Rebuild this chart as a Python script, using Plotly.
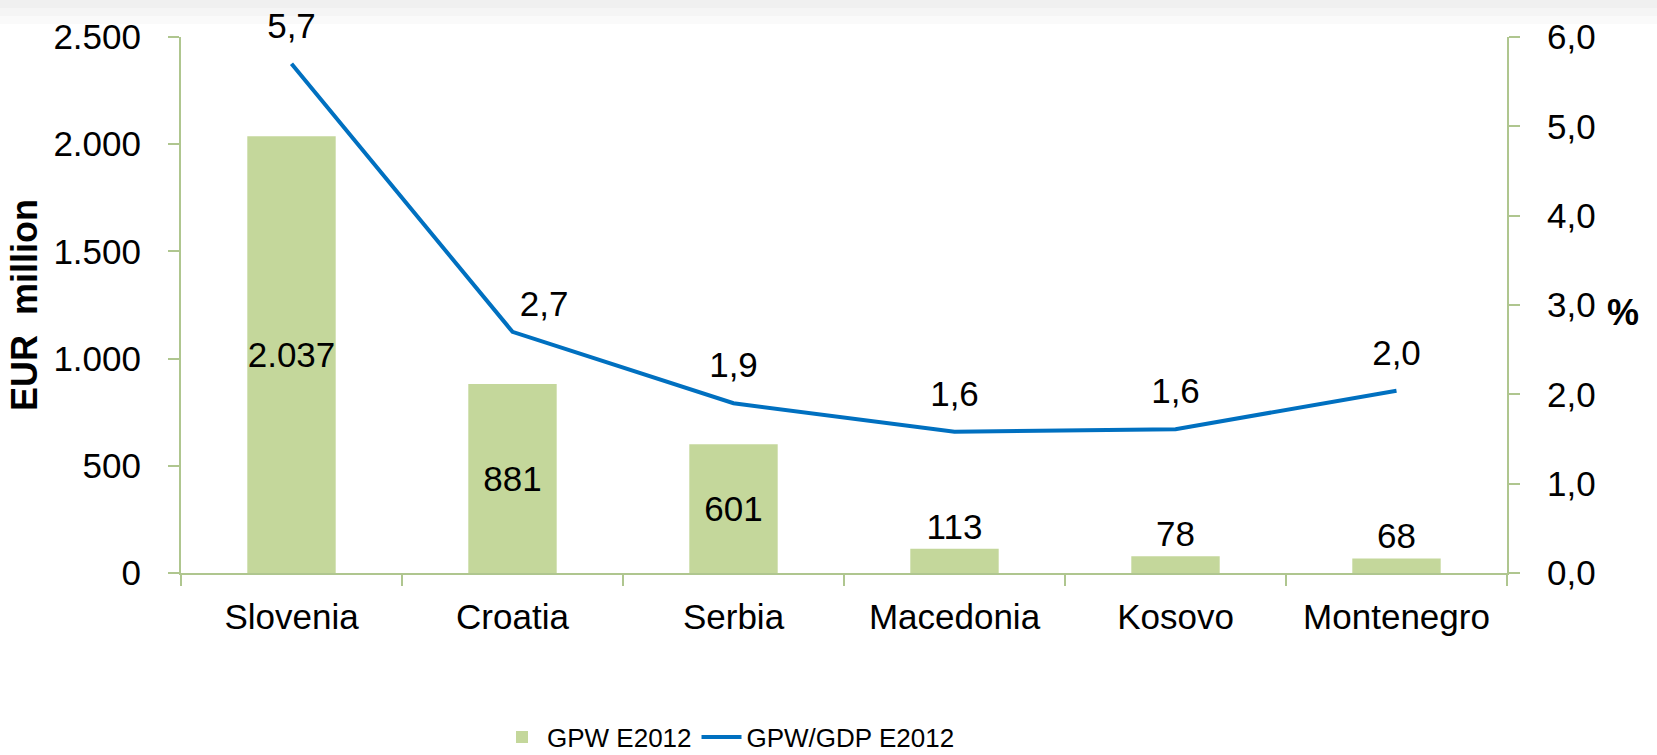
import plotly.graph_objects as go

countries = ["Slovenia", "Croatia", "Serbia", "Macedonia", "Kosovo", "Montenegro"]
gpw_eur_million = [2037, 881, 601, 113, 78, 68]
gpw_gdp_pct = [5.7, 2.7, 1.9, 1.58, 1.61, 2.04]

# label placement / styling (not data)
bar_label_pos = ["inside", "inside", "inside", "outside", "outside", "outside"]
line_label_pos = ["top center", "top right", "top center", "top center", "top center", "top center"]
line_label_pad = [26, 10, 26, 26, 26, 26]

left_ticks = [0, 500, 1000, 1500, 2000, 2500]
right_ticks = [0, 1, 2, 3, 4, 5, 6]

BAR = "#C4D79B"
LINE = "#0070C0"
AXIS = "#AFC68F"
FONT = "Liberation Sans, Arial, sans-serif"

W, H = 1657, 755
L, R, T, B = 181, 150, 37, 182
ph = H - T - B
pw = W - L - R

def py(px):
    return (H - B - px) / ph

def px_(x):
    return (x - L) / pw

fig = go.Figure()
fig.add_trace(go.Bar(
    x=countries, y=gpw_eur_million, name="GPW E2012",
    marker=dict(color=BAR, line=dict(width=0)), width=0.4,
    texttemplate="%{y:,.0f}", textposition=bar_label_pos, textangle=0,
    insidetextanchor="middle", constraintext="none",
    textfont=dict(family=FONT, size=35, color="black"),
    insidetextfont=dict(family=FONT, size=35, color="black"),
    outsidetextfont=dict(family=FONT, size=35, color="black"),
    cliponaxis=False, yaxis="y",
))
fig.add_trace(go.Scatter(
    x=countries, y=gpw_gdp_pct, name="GPW/GDP E2012",
    mode="lines+markers+text",
    line=dict(color=LINE, width=4),
    marker=dict(size=line_label_pad, color="rgba(0,0,0,0)", opacity=0,
                line=dict(width=0, color="rgba(0,0,0,0)")),
    texttemplate="%{y:.1f}", textposition=line_label_pos,
    textfont=dict(family=FONT, size=35, color="black"),
    cliponaxis=False, yaxis="y2",
))

shapes = [
    dict(type="rect", xref="paper", yref="paper", x0=-0.2, x1=1.2,
         y0=py(0), y1=py(8), fillcolor="#F0F0F0", line=dict(width=0), layer="below"),
    dict(type="rect", xref="paper", yref="paper", x0=-0.2, x1=1.2,
         y0=py(8), y1=py(16), fillcolor="#F5F5F5", line=dict(width=0), layer="below"),
    dict(type="rect", xref="paper", yref="paper", x0=-0.2, x1=1.2,
         y0=py(16), y1=py(24), fillcolor="#FAFAFA", line=dict(width=0), layer="below"),
]

fig.update_layout(
    width=W, height=H,
    margin=dict(l=L, r=R, t=T, b=B, autoexpand=False),
    paper_bgcolor="white", plot_bgcolor="rgba(0,0,0,0)",
    separators=",.",
    font=dict(family=FONT, size=35, color="black"),
    showlegend=True,
    legend=dict(orientation="h", x=px_(497), xanchor="left", y=py(737), yanchor="middle",
                font=dict(family=FONT, size=26, color="black"),
                bgcolor="rgba(0,0,0,0)", itemwidth=40, traceorder="normal"),
    xaxis=dict(type="category", showgrid=False, showline=True, linecolor=AXIS, linewidth=2,
               ticks="outside", tickson="boundaries", ticklen=11, tickcolor=AXIS, tickwidth=2,
               tickfont=dict(size=35), ticklabelstandoff=12, zeroline=False),
    yaxis=dict(range=[0, 2500], tickvals=left_ticks, tickformat=",.0f", showgrid=False,
               showline=True, linecolor=AXIS, linewidth=2, ticks="outside", ticklen=11,
               tickcolor=AXIS, tickwidth=2, tickfont=dict(size=35), ticklabelstandoff=20,
               zeroline=False,
               title=dict(text="EUR\u00a0\u00a0million", standoff=5,
                          font=dict(family=FONT, size=36, color="black", weight="bold"))),
    yaxis2=dict(range=[0, 6], tickvals=right_ticks, tickformat=".1f", overlaying="y", side="right",
                showgrid=False, showline=True, linecolor=AXIS, linewidth=2, ticks="outside",
                ticklen=11, tickcolor=AXIS, tickwidth=2, tickfont=dict(size=35),
                ticklabelstandoff=20, zeroline=False),
    annotations=[dict(text="<b>%</b>", xref="paper", yref="paper", x=px_(1623), y=py(312),
                      xanchor="center", yanchor="middle", showarrow=False,
                      font=dict(family=FONT, size=36, color="black"))],
    shapes=shapes,
)

fig.write_html("out.html")
